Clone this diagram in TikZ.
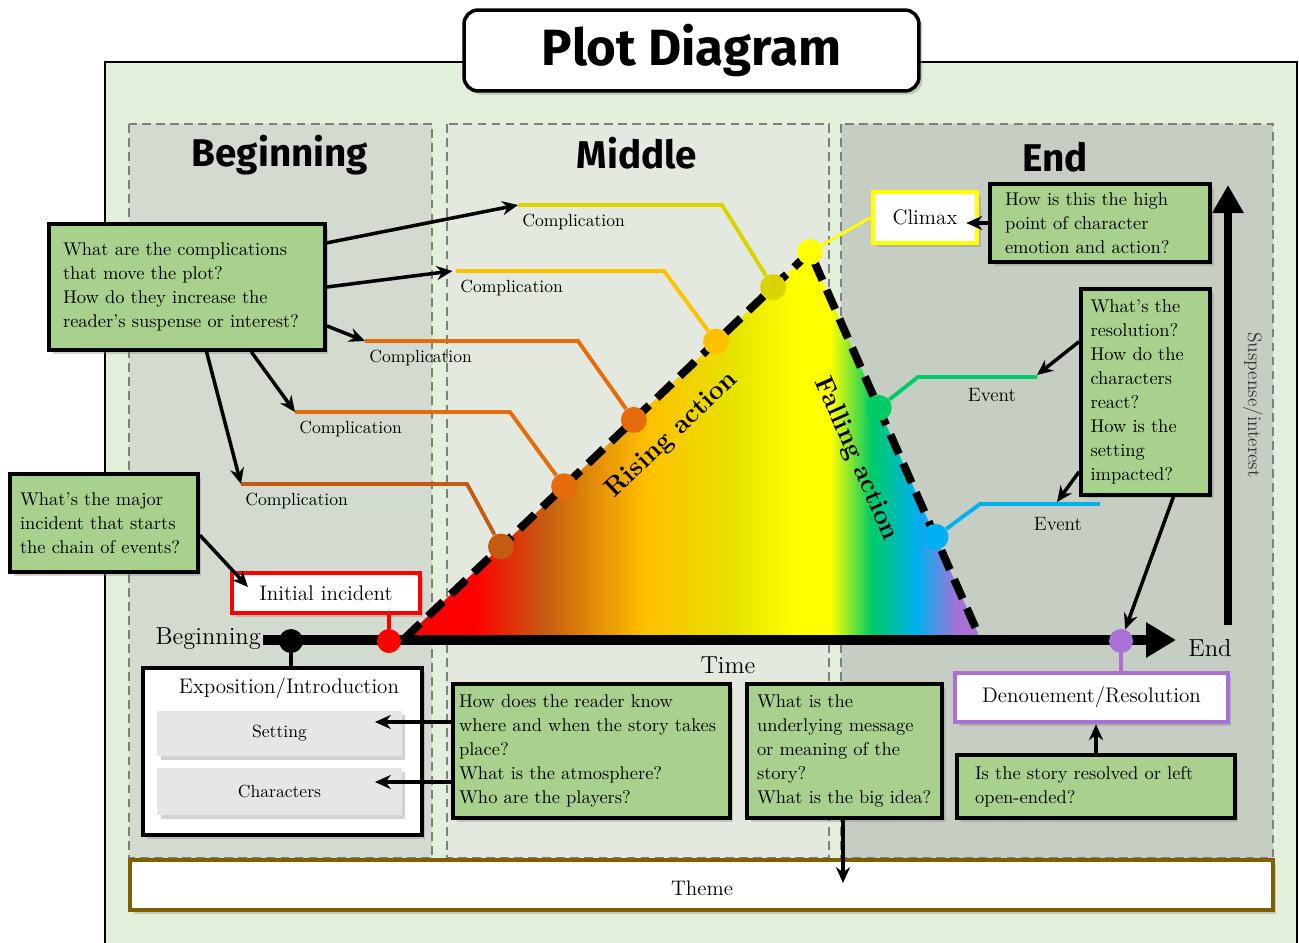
\documentclass[tikz,border=0pt]{standalone}
\usepackage{fontspec}
\newfontfamily\headfont{Fira Sans}
\usetikzlibrary{arrows.meta, calc, shadows}

\definecolor{bgGreen}{HTML}{E2EFDA}
\definecolor{begFill}{HTML}{D3DBD0}
\definecolor{midFill}{HTML}{E3E9DF}
\definecolor{endFill}{HTML}{C6CEC3}
\definecolor{secGray}{HTML}{7F7F7F}
\definecolor{qGreen}{HTML}{A9D18E}
\definecolor{boxGray}{HTML}{E6E6E6}
\definecolor{cBrown}{HTML}{C55A11}
\definecolor{cOrange}{HTML}{E46C0A}
\definecolor{cAmber}{HTML}{FFC000}
\definecolor{cOlive}{HTML}{D9D400}
\definecolor{evGreen}{HTML}{00CC66}
\definecolor{evBlue}{HTML}{00B0F0}
\definecolor{denPurple}{HTML}{A771D6}
\definecolor{themeBrown}{HTML}{7F6000}
\definecolor{climaxYellow}{HTML}{FFFF00}
\definecolor{midYellow}{HTML}{E6E200}

\pgfdeclarehorizontalshading{plotrainbow}{100bp}{color(0bp)=(red); color(31bp)=(red);
  color(37bp)=(cBrown); color(46bp)=(cAmber); color(53.5bp)=(midYellow);
  color(59bp)=(climaxYellow); color(62bp)=(climaxYellow); color(65.5bp)=(evGreen);
  color(69.5bp)=(evBlue); color(73bp)=(denPurple); color(100bp)=(denPurple)}

\tikzset{
  shd/.style={drop shadow={shadow xshift=2pt, shadow yshift=-2pt, opacity=.35}},
  qbox/.style={draw=black, line width=2.2pt, fill=qGreen, align=left, inner sep=0pt,
    font=\fontsize{10.5}{13.6}\selectfont, shd},
  lbox/.style={fill=white, line width=2.6pt, inner sep=0pt, font=\fontsize{12}{14}\selectfont, shd},
  graybox/.style={fill=boxGray, inner sep=0pt, minimum width=4.9cm, font=\fontsize{10}{12}\selectfont, shd},
  heading/.style={font=\headfont\bfseries\fontsize{22}{26}\selectfont},
  secbox/.style={draw=secGray, line width=1.1pt, dash pattern=on 5pt off 3pt},
  qarrow/.style={line width=2pt, -{Stealth[length=9pt, width=8pt]}},
  cline/.style={line width=2.2pt},
  dot/.style={circle, inner sep=0pt, minimum size=0.52cm},
  cplbl/.style={anchor=north west, inner sep=0pt, font=\fontsize{10}{12}\selectfont},
}

\begin{document}
\begin{tikzpicture}[x=0.02cm, y=-0.02cm]
  \useasboundingbox (0,0) rectangle (1299,943);
  \clip (0,0) rectangle (1299,943);

  % Frame
  \draw[fill=bgGreen, line width=1.5pt] (105,62) rectangle (1297,960);

  % Sections
  \draw[secbox, fill=begFill] (129,124) rectangle (432,858);
  \draw[secbox, fill=midFill] (447,124) rectangle (829,858);
  \draw[secbox, fill=endFill] (841,124) rectangle (1273,858);
  \node[heading] (hBeg) at (280,155) {Beginning};
  \node[heading] (hMid) at (637,153) {Middle};
  \node[heading] (hEnd) at (1055,157) {End};

  % Title
  \node[draw, fill=white, line width=2pt, rounded corners=8pt, minimum width=9.1cm,
    minimum height=1.62cm, font=\headfont\bfseries\fontsize{29}{32}\selectfont, shd]
    (title) at (691.5,50.5) {Plot Diagram};

  % Triangle
  \coordinate (tl) at (405,638);
  \coordinate (tp) at (810,252);
  \coordinate (tr) at (980,638);
  \shade[shading=plotrainbow] (tl) -- (tp) -- (tr) -- cycle;

  % Time axis
  \node[anchor=east, inner sep=1pt, font=\fontsize{14}{16}\selectfont] (begLbl) at (263,639) {Beginning};
  \coordinate (axEnd) at (1176,640);
  \draw[line width=5.5pt, -{Triangle[length=17pt, width=19pt]}] (begLbl.east |- axEnd) -- (axEnd);
  \node[font=\fontsize{14}{16}\selectfont] (endLbl) at (1210,648) {End};
  \node[font=\fontsize{14}{16}\selectfont] (timeLbl) at (728,665) {Time};

  % Rising and falling edges
  \draw[line width=4.5pt, dash pattern=on 12pt off 6pt] (tl) -- (tp) -- (tr);
  \node[rotate=43.6, font=\bfseries\fontsize{15}{18}\selectfont] (rising) at (672,435) {Rising action};
  \node[rotate=-66.2, font=\bfseries\fontsize{15}{18}\selectfont] (falling) at (856,459) {Falling action};

  % Complications
  \node[dot, fill=cBrown] (d1) at ($(tl)!0.237!(tp)$) {};
  \node[dot, fill=cOrange] (d2) at ($(tl)!0.393!(tp)$) {};
  \node[dot, fill=cOrange] (d3) at ($(tl)!0.565!(tp)$) {};
  \node[dot, fill=cAmber] (d4) at ($(tl)!0.768!(tp)$) {};
  \node[dot, fill=cOlive] (d5) at ($(tl)!0.909!(tp)$) {};
  \node[dot, fill=climaxYellow] (dTop) at (tp) {};
  \coordinate (s1) at (241,484); \coordinate (b1) at (467,484);
  \coordinate (s2) at (295,412); \coordinate (b2) at (510,412);
  \coordinate (s3) at (365,341); \coordinate (b3) at (578,341);
  \coordinate (s4) at (456,271); \coordinate (b4) at (664,271);
  \coordinate (s5) at (518,205); \coordinate (b5) at (722,205);
  \draw[cline, cBrown] (s1) -- (b1) -- (d1);
  \draw[cline, cOrange] (s2) -- (b2) -- (d2);
  \draw[cline, cOrange] (s3) -- (b3) -- (d3);
  \draw[cline, cAmber] (s4) -- (b4) -- (d4);
  \draw[cline, cOlive] (s5) -- (b5) -- (d5);
  \node[cplbl] (l1) at ([shift={(4,9)}]s1) {Complication};
  \node[cplbl] (l2) at ([shift={(4,9)}]s2) {Complication};
  \node[cplbl] (l3) at ([shift={(4,9)}]s3) {Complication};
  \node[cplbl] (l4) at ([shift={(4,9)}]s4) {Complication};
  \node[cplbl] (l5) at ([shift={(4,9)}]s5) {Complication};

  % Events
  \node[dot, fill=evGreen] (e1) at ($(tp)!0.404!(tr)$) {};
  \node[dot, fill=evBlue] (e2) at ($(tp)!0.738!(tr)$) {};
  \coordinate (e1b) at (918,377); \coordinate (e1e) at (1037,377);
  \coordinate (e2b) at (980,504); \coordinate (e2e) at (1100,504);
  \draw[cline, evGreen] (e1) -- (e1b) -- (e1e);
  \draw[cline, evBlue] (e2) -- (e2b) -- (e2e);
  \node[font=\fontsize{11}{13}\selectfont] (ev1) at (992,395) {Event};
  \node[font=\fontsize{11}{13}\selectfont] (ev2) at (1058,524) {Event};

  % Climax
  \node[lbox, draw=climaxYellow, minimum width=2.08cm, minimum height=1.02cm] (climax) at (925,217.5) {Climax};
  \draw[line width=1.6pt, climaxYellow] (dTop) -- (climax.west);

  % Suspense axis
  \coordinate (vBot) at (1228,625);
  \coordinate (vTop) at (1228,185);
  \draw[line width=4.5pt, -{Triangle[length=16pt, width=17pt]}] (vBot) -- (vTop);
  \node[rotate=-90, text=black!80, font=\fontsize{11}{13}\selectfont] (susp) at (1253,405) {Suspense/interest};

  % Labels on the time axis
  \node[lbox, draw=red, minimum width=3.76cm, minimum height=0.8cm] (initial) at (326,593) {Initial incident};
  \node[lbox, draw=black, line width=2.8pt, minimum width=5.58cm, minimum height=3.34cm] (expo) at (282.5,751.5) {};
  \node[font=\fontsize{12}{14}\selectfont] (expoTxt) at (289,688) {Exposition/Introduction};
  \node[graybox, minimum height=0.9cm] (setting) at (279.5,733.5) {Setting};
  \node[graybox, minimum height=0.94cm] (chars) at (279.5,791.5) {Characters};
  \node[lbox, draw=denPurple, minimum width=5.46cm, minimum height=0.98cm] (denoue) at (1091.5,697.5) {Denouement/Resolution};
  \node[dot, fill=black, minimum size=0.48cm] (dBeg) at (291,641) {};
  \node[dot, fill=red, minimum size=0.48cm] (dInit) at (389,641) {};
  \node[dot, fill=denPurple, minimum size=0.48cm] (dDen) at (1121,641) {};
  \draw[line width=2pt] (dBeg) -- (dBeg |- expo.north);
  \draw[line width=2pt, red] (dInit) -- (dInit |- initial.south);
  \draw[line width=2pt, denPurple] (dDen) -- (dDen |- denoue.north);

  % Theme
  \node[lbox, draw=themeBrown, minimum width=22.86cm, minimum height=1cm] (themeBar) at (701.5,885) {};
  \node[font=\fontsize{12}{14}\selectfont] (themeTxt) at (702,888) {Theme};

  % Questions
  \node[qbox, minimum width=5.52cm, minimum height=2.52cm, text width=4.96cm] (qComp) at (187,287)
    {What are the complications\\that move the plot?\\How do they increase the\\reader's suspense or interest?};
  \node[qbox, minimum width=3.76cm, minimum height=1.96cm, text width=3.36cm] (qIncident) at (104,523)
    {What's the major\\incident that starts\\the chain of events?};
  \node[qbox, minimum width=4.4cm, minimum height=1.56cm, text width=3.8cm] (qClimax) at (1100,223)
    {How is this the high\\point of character\\emotion and action?};
  \node[qbox, minimum width=2.58cm, minimum height=4.12cm, text width=2.2cm] (qResol) at (1145.5,392)
    {What's the\\resolution?\\How do the\\characters\\react?\\How is the\\setting\\impacted?};
  \node[qbox, minimum width=5.54cm, minimum height=2.68cm, text width=5.3cm] (qSetting) at (591.5,751)
    {How does the reader know\\where and when the story takes\\place?\\What is the atmosphere?\\Who are the players?};
  \node[qbox, minimum width=3.9cm, minimum height=2.68cm, text width=3.5cm] (qTheme) at (844.5,751)
    {What is the\\underlying message\\or meaning of the\\story?\\What is the big idea?};
  \node[qbox, minimum width=5.56cm, minimum height=1.26cm, text width=4.84cm] (qResolved) at (1096,786.5)
    {Is the story resolved or left\\open-ended?};

  % Question arrows
  \draw[qarrow] ($(qComp.north east)!0.16!(qComp.south east)$) -- (s5);
  \draw[qarrow] (qComp.east) -- ([xshift=-2pt]s4);
  \draw[qarrow] ($(qComp.north east)!0.8!(qComp.south east)$) -- (s3);
  \draw[qarrow] ($(qComp.south west)!0.73!(qComp.south east)$) -- (s2);
  \draw[qarrow] ($(qComp.south west)!0.57!(qComp.south east)$) -- (s1);
  \coordinate (incTip) at (248,587);
  \draw[qarrow] ($(qIncident.north east)!0.62!(qIncident.south east)$) -- (incTip);
  \draw[qarrow] (qClimax.west) -- ([xshift=-0.26cm]qClimax.west -| climax.east);
  \coordinate (ev1Tip) at (1037,375);
  \coordinate (ev2Tip) at (1057,502);
  \draw[qarrow] ($(qResol.north west)!0.26!(qResol.south west)$) -- (ev1Tip);
  \draw[qarrow] ($(qResol.north west)!0.88!(qResol.south west)$) -- (ev2Tip);
  \draw[qarrow] ($(qResol.south west)!0.71!(qResol.south east)$) -- (dDen);
  \coordinate (setTip) at (375,722);
  \coordinate (chrTip) at (375,782);
  \draw[qarrow] (setTip -| qSetting.west) -- (setTip);
  \draw[qarrow] (chrTip -| qSetting.west) -- (chrTip);
  \coordinate (themeTip) at (843,883);
  \draw[qarrow] (qTheme.south -| themeTip) -- (themeTip);
  \draw[qarrow] (qResolved.north) -- (qResolved.north |- denoue.south);

\end{tikzpicture}
\end{document}
